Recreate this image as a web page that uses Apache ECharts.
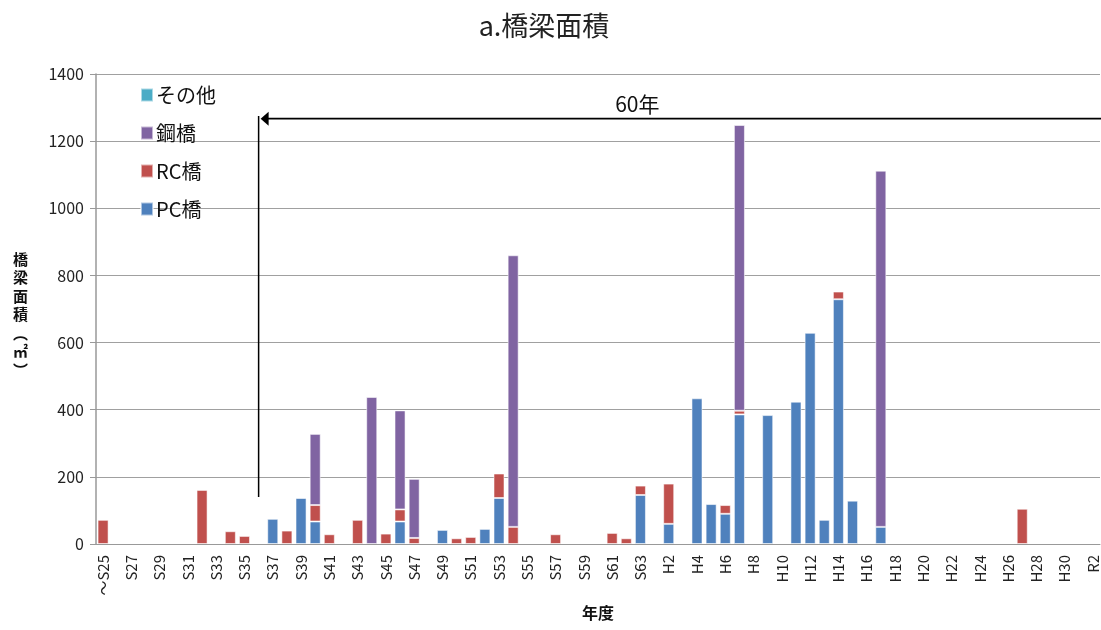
<!DOCTYPE html>
<html>
<head>
<meta charset="utf-8">
<title>a.橋梁面積</title>
<script src="https://cdn.jsdelivr.net/npm/echarts@6/dist/echarts.min.js"></script>
<style>
  html, body { margin: 0; padding: 0; background: #fff; }
  #chart { width: 1101px; height: 630px; }
</style>
</head>
<body>
<div id="chart"></div>
<script>
// Construction year (Showa / Heisei / Reiwa)
const categories = [
  '～S25','S26','S27','S28','S29','S30','S31','S32','S33','S34',
  'S35','S36','S37','S38','S39','S40','S41','S42','S43','S44',
  'S45','S46','S47','S48','S49','S50','S51','S52','S53','S54',
  'S55','S56','S57','S58','S59','S60','S61','S62','S63','H1',
  'H2','H3','H4','H5','H6','H7','H8','H9','H10','H11',
  'H12','H13','H14','H15','H16','H17','H18','H19','H20','H21',
  'H22','H23','H24','H25','H26','H27','H28','H29','H30','R1',
  'R2'
];

// Bridge deck area (㎡) per year, by bridge type
const pcBridge = [
  0,0,0,0,0,0,0,0,0,0,
  0,0,75,0,137,67,0,0,0,0,
  0,67,0,0,42,0,0,45,137,0,
  0,0,0,0,0,0,0,0,146,0,
  60,0,434,119,90,386,0,384,0,424,
  629,72,729,129,0,51,0,0,0,0,
  0,0,0,0,0,0,0,0,0,0,
  0
];
const rcBridge = [
  72,0,0,0,0,0,0,161,0,38,
  24,0,0,40,0,49,29,0,72,0,
  31,36,18,0,0,17,21,0,73,51,
  0,0,29,0,0,0,33,17,28,0,
  120,0,0,0,26,11,0,0,0,0,
  0,0,23,0,0,0,0,0,0,0,
  0,0,0,0,0,105,0,0,0,0,
  0
];
const steelBridge = [
  0,0,0,0,0,0,0,0,0,0,
  0,0,0,0,0,212,0,0,0,438,
  0,295,176,0,0,0,0,0,0,809,
  0,0,0,0,0,0,0,0,0,0,
  0,0,0,0,0,851,0,0,0,0,
  0,0,0,0,0,1061,0,0,0,0,
  0,0,0,0,0,0,0,0,0,0,
  0
];
const otherBridge = new Array(71).fill(0);

// y-axis range
const yMax = 1400;
const yStep = 200;

// 60-year span marker: starts at S36
const spanStart = 'S36';
const spanLabel = '60年';

const FONT = '"Noto Sans CJK JP", "Noto Sans", sans-serif';
const chart = echarts.init(document.getElementById('chart'), null, { renderer: 'canvas' });

const asBars = arr => arr.map(v => (v === 0 ? null : v));
const barItem = color => ({
  color: color,
  borderColor: 'rgba(255,255,255,0.55)',
  borderWidth: 1
});

const option = {
  animation: false,
  backgroundColor: '#fff',
  textStyle: { fontFamily: FONT },
  title: {
    text: 'a.橋梁面積',
    left: 539,
    top: 7,
    textAlign: 'center',
    textStyle: { fontFamily: FONT, fontSize: 27, fontWeight: 'normal', color: '#222' }
  },
  legend: {
    orient: 'vertical',
    left: 135,
    top: 80,
    itemWidth: 12,
    itemHeight: 13,
    itemGap: 18,
    icon: 'rect',
    data: ['その他', '鋼橋', 'RC橋', 'PC橋'],
    textStyle: { fontFamily: FONT, fontSize: 20, color: '#111', lineHeight: 20, padding: [0, 0, 0, -2] }
  },
  grid: { left: 96, right: 1, top: 74, bottom: 86, containLabel: false },
  xAxis: {
    type: 'category',
    data: categories,
    name: '年度',
    nameLocation: 'middle',
    nameGap: 61,
    nameTextStyle: { fontFamily: FONT, fontSize: 16, fontWeight: 'bold', color: '#111' },
    axisLine: { lineStyle: { color: '#999', width: 1 } },
    axisTick: { show: false },
    axisLabel: {
      interval: 1,
      rotate: 90,
      margin: 11,
      fontFamily: FONT,
      fontSize: 15,
      color: '#222'
    }
  },
  yAxis: {
    type: 'value',
    min: 0,
    max: yMax,
    interval: yStep,
    axisLine: { show: true, lineStyle: { color: '#999', width: 1.5 } },
    axisTick: { show: true, length: 6, lineStyle: { color: '#999' } },
    axisLabel: {
      fontFamily: FONT, fontSize: 16, color: '#222', margin: 12,
      formatter: v => String(v)
    },
    splitLine: { lineStyle: { color: '#a0a0a0', width: 1.2 } }
  },
  series: [
    { name: 'PC橋', type: 'bar', stack: 'area', data: asBars(pcBridge), barCategoryGap: '22%', itemStyle: barItem('#4F81BD') },
    { name: 'RC橋', type: 'bar', stack: 'area', data: asBars(rcBridge), itemStyle: barItem('#C0504D') },
    { name: '鋼橋', type: 'bar', stack: 'area', data: asBars(steelBridge), itemStyle: barItem('#8064A2') },
    { name: 'その他', type: 'bar', stack: 'area', data: asBars(otherBridge), itemStyle: barItem('#4BACC6') }
  ]
};

chart.setOption(option);

// y-axis title, stacked vertically
const yTitle = {
  type: 'text',
  left: 13,
  top: 250,
  style: {
    text: '橋\n梁\n面\n積\n︵\n㎡\n︶',
    font: 'bold 15px ' + FONT,
    fill: '#111',
    lineHeight: 18.5,
    align: 'center'
  }
};

// 60-year span bracket drawn in data coordinates
const toPx = (cat, val) => chart.convertToPixel({ gridIndex: 0 }, [cat, val]);
const pBottom = toPx(spanStart, 140);
const pTop = toPx(spanStart, 1275);
const pArrow = toPx(spanStart, 1267);
const rightEdge = chart.getWidth();
const xStart = pBottom[0];
const yArrow = pArrow[1];
const pLabel = toPx('S62', 1312);

chart.setOption({
  graphic: [
    yTitle,
    {
      type: 'line',
      shape: { x1: xStart, y1: pTop[1], x2: xStart, y2: pBottom[1] },
      style: { stroke: '#000', lineWidth: 1.5 }
    },
    {
      type: 'line',
      shape: { x1: xStart + 6, y1: yArrow, x2: rightEdge, y2: yArrow },
      style: { stroke: '#000', lineWidth: 1.8 }
    },
    {
      type: 'polygon',
      shape: { points: [[xStart + 2, yArrow], [xStart + 10, yArrow - 7], [xStart + 10, yArrow + 7]] },
      style: { fill: '#000' }
    },
    {
      type: 'text',
      x: pLabel[0] + 11,
      y: pLabel[1],
      style: {
        text: spanLabel,
        font: '21px ' + FONT,
        fill: '#111',
        align: 'center',
        verticalAlign: 'middle'
      }
    }
  ]
});
</script>
</body>
</html>
